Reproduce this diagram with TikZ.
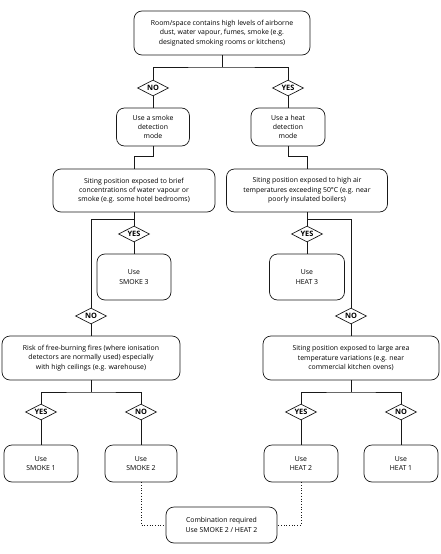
\documentclass[tikz,border=0pt]{standalone}
\usepackage{fontspec}
\setmainfont{Open Sans}
\usetikzlibrary{shapes.geometric}
\tikzset{
  box/.style={draw=black!90, line width=0.7pt, rounded corners=8pt, align=center, font=\fontsize{6.9}{9.3}\selectfont, inner sep=0pt},
  answer/.style={draw=black!90, line width=0.7pt, diamond, aspect=2, inner sep=0.3pt, minimum width=31pt, minimum height=16pt, font=\fontsize{7.4}{7.4}\selectfont\bfseries},
  link/.style={draw=black!90, line width=0.7pt},
  hint/.style={draw=black!90, line width=0.7pt, dotted}
}
\begin{document}
\begin{tikzpicture}[x=1pt,y=-1pt]
    %%%%% START %%%%%
    \useasboundingbox (0,0) rectangle (441,554);

    \node[box, minimum width=176pt, minimum height=44pt] (room) at (222,33) {Room/space contains high levels of airborne\\dust, water vapour, fumes, smoke (e.g.\\designated smoking rooms or kitchens)};

    \node[answer] (no1) at (153,88) {NO};
    \node[answer] (yes1) at (288,88) {YES};

    \node[box, minimum width=73pt, minimum height=38pt] (smokemode) at (153,127) {Use a smoke\\detection\\mode};
    \node[box, minimum width=74pt, minimum height=38pt] (heatmode) at (288,127) {Use a heat\\detection\\mode};

    \node[box, minimum width=162pt, minimum height=43pt] (sitL) at (134,190.5) {Siting position exposed to brief\\concentrations of water vapour or\\smoke (e.g. some hotel bedrooms)};
    \node[box, minimum width=161pt, minimum height=43pt] (sitR) at (307,190.5) {Siting position exposed to high air\\temperatures exceeding 50°C (e.g. near\\poorly insulated boilers)};

    \node[answer] (yesL) at (134,234) {YES};
    \node[answer] (yesR) at (307,234) {YES};
    \node[box, minimum width=74pt, minimum height=46pt] (smoke3) at (134,277) {Use\\SMOKE 3};
    \node[box, minimum width=75pt, minimum height=46pt] (heat3) at (307,277) {Use\\HEAT 3};

    \node[answer] (noL) at (91,316) {NO};
    \node[answer] (noR) at (351,316) {NO};

    \node[box, minimum width=178pt, minimum height=44pt] (risk) at (91,358) {Risk of free-burning fires (where ionisation\\detectors are normally used) especially\\with high ceilings (e.g. warehouse)};
    \node[box, minimum width=176pt, minimum height=44pt] (variation) at (351,358) {Siting position exposed to large area\\temperature variations (e.g. near\\commercial kitchen ovens)};

    \node[answer] (yesL2) at (41,412) {YES};
    \node[answer] (noL2) at (141,412) {NO};
    \node[answer] (yesR2) at (301,412) {YES};
    \node[answer] (noR2) at (401,412) {NO};

    \node[box, minimum width=74pt, minimum height=37pt] (smoke1) at (41,463.5) {Use\\SMOKE 1};
    \node[box, minimum width=72pt, minimum height=37pt] (smoke2) at (141,463.5) {Use\\SMOKE 2};
    \node[box, minimum width=74pt, minimum height=37pt] (heat2) at (301,463.5) {Use\\HEAT 2};
    \node[box, minimum width=74pt, minimum height=37pt] (heat1) at (401,463.5) {Use\\HEAT 1};

    \node[box, minimum width=111pt, minimum height=36pt] (combo) at (221.5,525) {Combination required\\Use SMOKE 2 / HEAT 2};

    % junctions
    \coordinate (j1) at (222,67);
    \coordinate (jSmoke) at (153,156);
    \coordinate (jHeat) at (288,156);
    \coordinate (jL) at (134,219);
    \coordinate (jR) at (307,219);
    \coordinate (jL2) at (91,392);
    \coordinate (jR2) at (351,392);

    \draw[link] (room.south) -- (j1);
    \draw[link] (no1.north) |- (j1) -| (yes1.north);
    \draw[link] (no1.south) -- (smokemode.north);
    \draw[link] (yes1.south) -- (heatmode.north);
    \draw[link] (smokemode.south) -- (jSmoke) -| (sitL.north);
    \draw[link] (heatmode.south) -- (jHeat) -| (sitR.north);

    \draw[link] (sitL.south) -- (yesL.north);
    \draw[link] (yesL.south) -- (smoke3.north);
    \draw[link] (noL.north) |- (jL);
    \draw[link] (noL.south) -- (risk.north);
    \draw[link] (sitR.south) -- (yesR.north);
    \draw[link] (yesR.south) -- (heat3.north);
    \draw[link] (noR.north) |- (jR);
    \draw[link] (noR.south) -- (variation.north);

    \draw[link] (risk.south) -- (jL2);
    \draw[link] (yesL2.north) |- (jL2) -| (noL2.north);
    \draw[link] (yesL2.south) -- (smoke1.north);
    \draw[link] (noL2.south) -- (smoke2.north);
    \draw[link] (variation.south) -- (jR2);
    \draw[link] (yesR2.north) |- (jR2) -| (noR2.north);
    \draw[link] (yesR2.south) -- (heat2.north);
    \draw[link] (noR2.south) -- (heat1.north);

    \draw[hint] (smoke2.south) |- (combo.west);
    \draw[hint] (heat2.south) |- (combo.east);
    %%%%% END %%%%%
\end{tikzpicture}
\end{document}
